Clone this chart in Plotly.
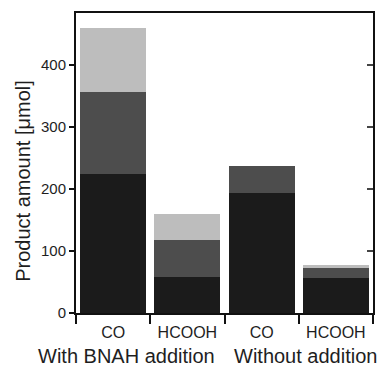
import plotly.graph_objects as go

categories = ["CO", "HCOOH", "CO", "HCOOH"]
groups = ["With BNAH addition", "Without addition"]
bottom = [223, 58, 193, 57]
middle = [133, 60, 43, 17]
top = [103, 42, 0, 3]
yticks = [0, 100, 200, 300, 400]
ytitle = "Product amount [μmol]"

xpos = list(range(len(categories)))
font = "Liberation Sans, Arial, sans-serif"

fig = go.Figure()
for vals, col in [(bottom, "#1b1b1b"), (middle, "#4d4d4d"), (top, "#bdbdbd")]:
    fig.add_trace(go.Bar(x=xpos, y=vals, marker=dict(color=col, line=dict(width=0)),
                         showlegend=False, hoverinfo="skip"))

# invisible trace to activate secondary axes
fig.add_trace(go.Scatter(x=[-0.5, 3.5], y=[0, 0], xaxis="x2", yaxis="y2", mode="lines",
                         line=dict(width=0), showlegend=False, hoverinfo="skip"))

fig.update_layout(
    width=385, height=368,
    margin=dict(l=76, r=10, t=13, b=55),
    paper_bgcolor="white", plot_bgcolor="white",
    barmode="stack", bargap=0.11,
    font=dict(family=font, color="#1e1e1e", size=14),
    xaxis=dict(range=[-0.5, 3.5], tickvals=xpos, ticktext=categories, ticks="",
               showline=True, linecolor="#111", linewidth=2, mirror=True,
               showgrid=False, zeroline=False, tickfont=dict(size=16),
               ticklabelstandoff=4),
    xaxis2=dict(range=[-0.5, 3.5], overlaying="x", anchor="y", side="bottom",
                tickvals=[-0.5, 0.5, 1.5, 2.5, 3.5], ticks="outside", ticklen=10,
                tickcolor="#111", tickwidth=1.5, showticklabels=False,
                showline=False, showgrid=False, zeroline=False),
    yaxis=dict(range=[0, 483], tickvals=yticks, ticks="outside", ticklen=5,
               tickcolor="#111", tickwidth=1.5, showline=True, linecolor="#111",
               linewidth=2, mirror=True, showgrid=False, zeroline=False,
               tickfont=dict(size=15)),
    yaxis2=dict(range=[0, 483], tickvals=yticks[1:], overlaying="y", side="right",
                anchor="x", ticks="inside", ticklen=6, tickcolor="#444", tickwidth=1.5,
                showticklabels=False, showline=False, showgrid=False, zeroline=False),
    annotations=[
        dict(text=ytitle, x=-0.179, y=0.44, xref="paper", yref="paper", textangle=-90,
             xanchor="center", yanchor="middle", showarrow=False, font=dict(size=20)),
        dict(text=groups[0], x=0.17, y=-0.143, xref="paper", yref="paper",
             xanchor="center", yanchor="middle", showarrow=False, font=dict(size=20)),
        dict(text=groups[1], x=0.773, y=-0.143, xref="paper", yref="paper",
             xanchor="center", yanchor="middle", showarrow=False, font=dict(size=20)),
    ],
)

fig.write_html("out.html")
